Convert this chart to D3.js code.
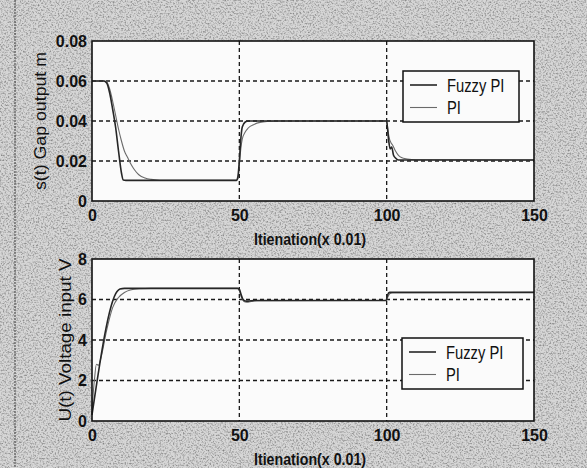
<!DOCTYPE html>
<html>
<head>
<meta charset="utf-8">
<script src="https://cdn.jsdelivr.net/npm/d3@7"></script>
<style>
  html, body { margin: 0; padding: 0; background: #c8c8c8; }
  svg { display: block; }
  text { font-family: "Liberation Sans Narrow", "Liberation Sans", Arial, sans-serif; fill: #111; }
</style>
</head>
<body>
<svg id="chart" width="587" height="468"></svg>
<script>
// ---- Gap output s(t) [m] ----
const sFuzzyT = [0, 4, 5, 6, 7, 8, 9, 10, 10.6, 11.5, 49, 49.5, 50, 50.5, 51, 52, 53, 100, 100.3, 100.7, 101.2, 101.7, 102.3, 103, 104, 150];
const sFuzzyV = [0.06, 0.06, 0.059, 0.054, 0.046, 0.037, 0.025, 0.014, 0.0105, 0.0103, 0.0103, 0.012, 0.02, 0.031, 0.037, 0.0395, 0.04, 0.04, 0.036, 0.030, 0.026, 0.027, 0.023, 0.0215, 0.0205, 0.0205];

const sPIT = [0, 4, 5, 6, 7, 8, 9, 10, 11, 12, 13, 14, 15, 16, 18, 20, 23, 49, 49.5, 50, 50.5, 51, 52, 53, 55, 57, 60, 63, 100, 100.3, 100.8, 101.5, 102, 103, 104, 105, 107, 110, 150];
const sPIV = [0.06, 0.06, 0.0595, 0.056, 0.05, 0.043, 0.036, 0.03, 0.025, 0.022, 0.019, 0.0165, 0.0145, 0.013, 0.0115, 0.0108, 0.0104, 0.0104, 0.011, 0.018, 0.026, 0.031, 0.0345, 0.0365, 0.0383, 0.0393, 0.0398, 0.04, 0.04, 0.037, 0.032, 0.029, 0.028, 0.025, 0.0228, 0.0217, 0.021, 0.0206, 0.0205];

// ---- Voltage input U(t) [V] ----
const uFuzzyT = [0, 8.5, 9.5, 11, 49.4, 50, 50.6, 51.2, 52, 53, 55, 99.8, 100.3, 101, 150];
const uFuzzyV = [0.3, 6.4, 6.52, 6.55, 6.55, 6.5, 6.25, 6.02, 5.93, 5.92, 5.95, 5.95, 6.22, 6.35, 6.35];

const uPIT = [0, 0.8, 1.5, 2.2, 3, 5, 7, 9, 11, 13, 16, 20, 49.4, 50, 50.6, 51.2, 52, 53, 54, 56, 99.8, 100.5, 101, 102, 150];
const uPIV = [0.6, 2.0, 2.8, 2.75, 3.1, 4.5, 5.6, 6.1, 6.35, 6.47, 6.53, 6.55, 6.55, 6.45, 6.15, 5.97, 5.88, 5.87, 5.9, 5.94, 5.95, 6.15, 6.28, 6.34, 6.35];

// ---- axes ----
const xTicks = [0, 50, 100, 150];
const xTickLabels = ["0", "50", "100", "150"];
const sTicks = [0, 0.02, 0.04, 0.06, 0.08];
const sTickLabels = ["0", "0.02", "0.04", "0.06", "0.08"];
const uTicks = [0, 2, 4, 6, 8];
const uTickLabels = ["0", "2", "4", "6", "8"];

const seriesNames = ["Fuzzy PI", "PI"];
const xTitle = "Itienation(x 0.01)";
const sTitle = "s(t) Gap output m";
const uTitle = "U(t) Voltage input V";

const svg = d3.select("#chart");
const W = 587, H = 468;

// paper grain
const defs = svg.append("defs");
const grain = defs.append("filter").attr("id", "grain").attr("x", 0).attr("y", 0).attr("width", "100%").attr("height", "100%");
grain.append("feTurbulence").attr("type", "fractalNoise").attr("baseFrequency", 0.6).attr("numOctaves", 2).attr("seed", 7).attr("result", "n");
grain.append("feColorMatrix").attr("type", "matrix")
  .attr("values", "0 0 0 0 0  0 0 0 0 0  0 0 0 0 0  -1.8 0 0 0 1.0");
svg.append("rect").attr("width", W).attr("height", H).attr("fill", "#d6d6d6");
svg.append("rect").attr("width", W).attr("height", H).attr("filter", "url(#grain)").attr("opacity", 0.5);
svg.append("line").attr("x1", 15).attr("x2", 15).attr("y1", 0).attr("y2", H)
  .attr("stroke", "#555").attr("stroke-width", 1.2).attr("stroke-dasharray", "2,1");

const x0 = 92, x1 = 534;
const narrow = 0.82; // horizontal squeeze for the condensed lettering

const panels = [
  { top: 41, bottom: 201, domain: [0, 0.08], ticks: sTicks, labels: sTickLabels, title: sTitle, titleX: 46, titleLen: 138,
    fT: sFuzzyT, fV: sFuzzyV, pT: sPIT, pV: sPIV, legend: { x: 403, y: 71, w: 116, h: 51 } },
  { top: 259, bottom: 421, domain: [0, 8], ticks: uTicks, labels: uTickLabels, title: uTitle, titleX: 71, titleLen: 163,
    fT: uFuzzyT, fV: uFuzzyV, pT: uPIT, pV: uPIV, legend: { x: 402, y: 338, w: 121, h: 51 } }
];

const x = d3.scaleLinear().domain([0, 150]).range([x0, x1]);

panels.forEach(p => {
  const y = d3.scaleLinear().domain(p.domain).range([p.bottom, p.top]);
  const g = svg.append("g");

  g.append("rect").attr("x", x0).attr("y", p.top).attr("width", x1 - x0).attr("height", p.bottom - p.top)
    .attr("fill", "#fbfbfb");

  // dotted grid
  g.append("g").selectAll("line").data(p.ticks.slice(1, -1)).join("line")
    .attr("x1", x0).attr("x2", x1).attr("y1", d => y(d)).attr("y2", d => y(d))
    .attr("stroke", "#1a1a1a").attr("stroke-width", 1.3).attr("stroke-dasharray", "4,3");
  g.append("g").selectAll("line").data(xTicks.slice(1, -1)).join("line")
    .attr("x1", d => x(d)).attr("x2", d => x(d)).attr("y1", p.top).attr("y2", p.bottom)
    .attr("stroke", "#1a1a1a").attr("stroke-width", 1.3).attr("stroke-dasharray", "4,3");

  const line = d3.line().x(d => x(d[0])).y(d => y(d[1])).curve(d3.curveMonotoneX);
  g.append("path").datum(d3.zip(p.pT, p.pV)).attr("d", line)
    .attr("fill", "none").attr("stroke", "#6a6a6a").attr("stroke-width", 1.1);
  g.append("path").datum(d3.zip(p.fT, p.fV)).attr("d", line)
    .attr("fill", "none").attr("stroke", "#262626").attr("stroke-width", 1.6);

  // frame
  g.append("rect").attr("x", x0).attr("y", p.top).attr("width", x1 - x0).attr("height", p.bottom - p.top)
    .attr("fill", "none").attr("stroke", "#111").attr("stroke-width", 1.6);

  // axes labels
  const ay = g.append("g").attr("transform", `translate(${x0},0)`)
    .call(d3.axisLeft(y).tickValues(p.ticks).tickSize(0).tickPadding(5)
      .tickFormat((d, i) => p.labels[i]));
  ay.select(".domain").remove();
  ay.selectAll("text").attr("font-size", 16).attr("font-weight", "bold")
    .style("font-family", "'Liberation Sans Narrow', 'Liberation Sans', sans-serif");

  const ax = g.append("g").attr("transform", `translate(0,${p.bottom})`)
    .call(d3.axisBottom(x).tickValues(xTicks).tickSize(0).tickPadding(9)
      .tickFormat((d, i) => xTickLabels[i]));
  ax.select(".domain").remove();
  ax.selectAll("text").attr("font-size", 16).attr("font-weight", "bold")
    .style("font-family", "'Liberation Sans Narrow', 'Liberation Sans', sans-serif");

  g.append("text").attr("x", (x0 + x1) / 2 - 3).attr("y", p.bottom + 44)
    .attr("text-anchor", "middle").attr("font-size", 16).attr("font-weight", "bold")
    .attr("textLength", 112).attr("lengthAdjust", "spacingAndGlyphs").text(xTitle);

  g.append("text").attr("transform", `translate(${p.titleX},${(p.top + p.bottom) / 2}) rotate(-90)`)
    .attr("text-anchor", "middle").attr("font-size", 17)
    .attr("textLength", p.titleLen).attr("lengthAdjust", "spacingAndGlyphs").text(p.title);

  // legend
  const L = p.legend;
  const lg = g.append("g");
  lg.append("rect").attr("x", L.x).attr("y", L.y).attr("width", L.w).attr("height", L.h)
    .attr("fill", "#fbfbfb").attr("stroke", "#111").attr("stroke-width", 1.5);
  const rows = [
    { name: seriesNames[0], color: "#262626", w: 1.6 },
    { name: seriesNames[1], color: "#6a6a6a", w: 1.1 }
  ];
  rows.forEach((r, i) => {
    const cy = L.y + 14 + i * 22.5;
    lg.append("line").attr("x1", L.x + 7).attr("x2", L.x + 34).attr("y1", cy).attr("y2", cy)
      .attr("stroke", r.color).attr("stroke-width", r.w);
    lg.append("text").attr("transform", `translate(${L.x + 44},${cy + 6.5}) scale(${narrow},1)`)
      .attr("font-size", 18).text(r.name);
  });
});
</script>
</body>
</html>
